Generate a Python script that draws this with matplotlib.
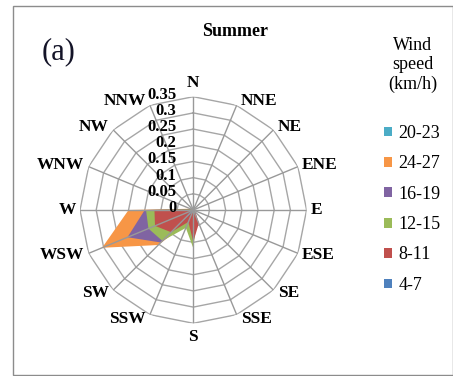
import numpy as np
import matplotlib.pyplot as plt
from matplotlib.patches import Rectangle

plt.rcParams['font.family'] = ['Liberation Serif', 'DejaVu Serif']

directions = ['N', 'NNE', 'NE', 'ENE', 'E', 'ESE', 'SE', 'SSE',
              'S', 'SSW', 'SW', 'WSW', 'W', 'WNW', 'NW', 'NNW']
speed_classes = ['20-23', '24-27', '16-19', '12-15', '8-11', '4-7']
colors = ['#4BACC6', '#F79646', '#8064A2', '#9BBB59', '#C0504D', '#4F81BD']

# frequency per direction for each speed class (drawn back to front)
f_20_23 = [0, 0, 0, 0, 0, 0, 0, 0, 0, 0.01, 0.05, 0.12, 0.06, 0, 0, 0]
f_24_27 = [0.005, 0.005, 0.005, 0.005, 0.005, 0.005, 0.005, 0.01,
           0.02, 0.04, 0.153, 0.305, 0.20, 0.01, 0.005, 0.005]
f_16_19 = [0.003, 0.003, 0.003, 0.003, 0.003, 0.003, 0.003, 0.008,
           0.015, 0.035, 0.142, 0.22, 0.15, 0.008, 0.003, 0.003]
f_12_15 = [0.002, 0.002, 0.002, 0.002, 0.002, 0.003, 0.005, 0.03,
           0.118, 0.06, 0.135, 0.15, 0.146, 0.006, 0.002, 0.002]
f_8_11 = [0.001, 0.001, 0.001, 0.001, 0.002, 0.003, 0.01, 0.045,
          0.098, 0.04, 0.097, 0.128, 0.12, 0.002, 0.001, 0.001]
f_4_7 = [0.001, 0.001, 0.001, 0.001, 0.001, 0.001, 0.002, 0.005,
         0.005, 0.008, 0.045, 0.008, 0.003, 0.001, 0.001, 0.001]
series = [f_20_23, f_24_27, f_16_19, f_12_15, f_8_11, f_4_7]

rings = [0, 0.05, 0.1, 0.15, 0.2, 0.25, 0.3, 0.35]
rmax = 0.35

fig = plt.figure(figsize=(4.53, 3.76), dpi=100)
ax = fig.add_axes([0.1766, 0.1402, 0.5002, 0.6026], projection='polar')
ax.set_theta_zero_location('N')
ax.set_theta_direction(-1)
ax.set_ylim(0, rmax)
ax.set_axis_off()

theta = np.deg2rad(np.arange(len(directions)) * 22.5)
theta_c = np.append(theta, theta[0])

# polygon rings
for r in rings[1:]:
    ax.plot(theta_c, [r] * len(theta_c), color='#a6a6a6', lw=1, zorder=1)

# filled series
handles = []
for vals, c, lab in zip(series, colors, speed_classes):
    v = np.append(vals, vals[0])
    h = ax.fill(theta_c, v, color=c, lw=0, zorder=2, label=lab)[0]
    handles.append(h)

# spokes on top of fills
for t in theta:
    ax.plot([t, t], [0, rmax], color='#999999', lw=1, zorder=3)

# radial value labels along the north spoke
for r in rings:
    ax.annotate(f'{r:g}', xy=(0, r), xytext=(-12, 1.5), textcoords='offset points',
                ha='right', va='center', fontsize=12, fontweight='bold', zorder=4)

# direction labels around the outside
for t, name in zip(theta, directions):
    dx, dy = np.sin(t), np.cos(t)
    if abs(dx) < 0.1:
        ha, off = 'center', (0, 10 * np.sign(dy))
    else:
        ha = 'left' if dx > 0 else 'right'
        off = (3 * np.sign(dx), 3 * dy)
    ax.annotate(name, xy=(t, rmax), xytext=off, textcoords='offset points',
                ha=ha, va='center', fontsize=12.5, fontweight='bold',
                annotation_clip=False)

fig.text(235 / 453, 1 - 32 / 376, 'Summer', ha='center', va='center',
         fontsize=13, fontweight='bold')
fig.text(42 / 453, 1 - 52 / 376, '(a)', ha='left', va='center', fontsize=22,
         color='#141428')

fig.text(413 / 453, 1 - 65 / 376, 'Wind\nspeed\n(km/h)', ha='center', va='center',
         fontsize=13, linespacing=1.2)
fig.legend(handles=handles, labels=speed_classes, loc='upper left',
           bbox_to_anchor=(384 / 453, 1 - 125 / 376), frameon=False,
           fontsize=13, handlelength=0.45, handleheight=0.45, handletextpad=0.35,
           labelspacing=0.74, borderpad=0, borderaxespad=0)

fig.patches.append(Rectangle((13 / 453, 1 / 376), 439.5 / 453, 369 / 376, fill=False,
                             edgecolor='#8c8c8c', lw=1, transform=fig.transFigure))

fig.savefig('out.png', dpi=100)
